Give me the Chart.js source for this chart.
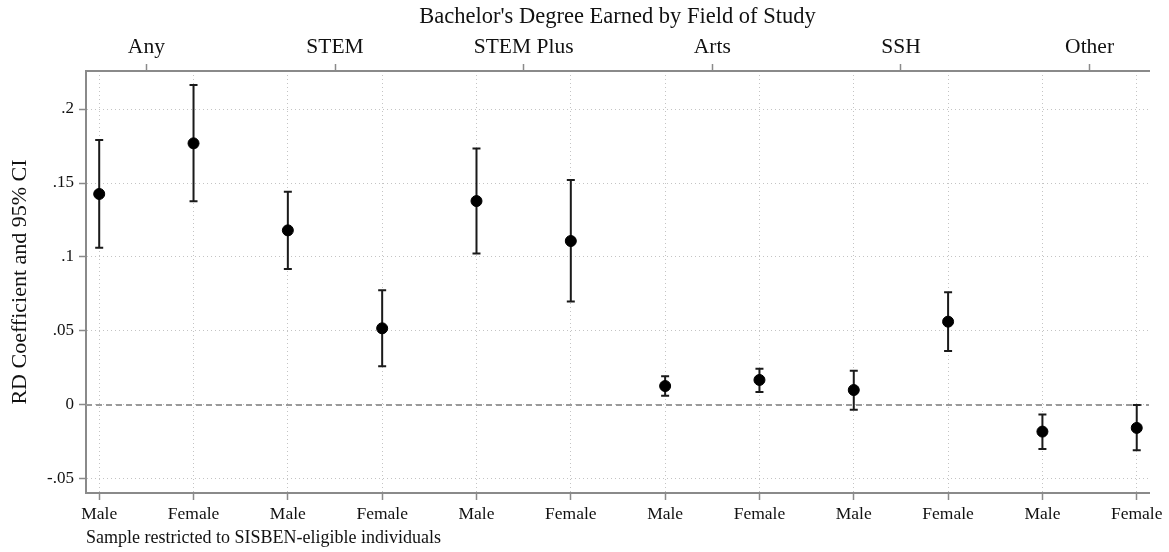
<!DOCTYPE html>
<html>
<head>
<meta charset="utf-8">
<script src="https://cdn.jsdelivr.net/npm/chart.js@4/dist/chart.umd.min.js"></script>
<style>
  html, body { margin: 0; padding: 0; background: #fff; }
  #wrap { width: 1169px; height: 552px; }
</style>
</head>
<body>
<div id="wrap"><canvas id="rdChart"></canvas></div>
<script>
const FONT = "'Liberation Serif', 'DejaVu Serif', serif";

// field groups (top axis) and sex categories (bottom axis)
const fields = ["Any", "STEM", "STEM Plus", "Arts", "SSH", "Other"];
const sexLabels = ["Male", "Female", "Male", "Female", "Male", "Female",
                   "Male", "Female", "Male", "Female", "Male", "Female"];

// RD coefficients and 95% CI bounds
const coef   = [0.1426, 0.1768, 0.118, 0.0518, 0.1378, 0.1108, 0.0128, 0.0169, 0.0101, 0.0563, -0.018, -0.0155];
const ciLow  = [0.1063, 0.1376, 0.0919, 0.0261, 0.1023, 0.070, 0.0063, 0.0088, -0.0032, 0.0365, -0.0297, -0.0306];
const ciHigh = [0.179, 0.2162, 0.1441, 0.0775, 0.1734, 0.152, 0.0194, 0.0245, 0.0232, 0.0761, -0.0065, 0.0];

const yTicks = [-0.05, 0, 0.05, 0.1, 0.15, 0.2];
const yTickLabels = ["-.05", "0", ".05", ".1", ".15", ".2"];

const AXIS_COLOR = "#8a8a8a";
const GRID_COLOR = "#c4c4c4";

// dashed reference line at zero, drawn under the CI bars
const zeroLine = {
  id: "zeroLine",
  beforeDatasetsDraw(chart) {
    const { ctx, chartArea, scales } = chart;
    const y = scales.y.getPixelForValue(0);
    ctx.save();
    ctx.strokeStyle = "#9a9a9a";
    ctx.lineWidth = 2;
    ctx.setLineDash([6, 4]);
    ctx.beginPath();
    ctx.moveTo(chartArea.left, y);
    ctx.lineTo(chartArea.right, y);
    ctx.stroke();
    ctx.restore();
  }
};

// vertical CI whiskers with caps
const errorBars = {
  id: "errorBars",
  beforeDatasetsDraw(chart) {
    const { ctx, scales } = chart;
    const cap = 4;
    ctx.save();
    ctx.strokeStyle = "#1a1a1a";
    ctx.lineWidth = 2;
    ciLow.forEach((lo, i) => {
      const x = scales.x.getPixelForValue(i);
      const y1 = scales.y.getPixelForValue(lo);
      const y2 = scales.y.getPixelForValue(ciHigh[i]);
      ctx.beginPath();
      ctx.moveTo(x, y1); ctx.lineTo(x, y2);
      ctx.moveTo(x - cap, y1); ctx.lineTo(x + cap, y1);
      ctx.moveTo(x - cap, y2); ctx.lineTo(x + cap, y2);
      ctx.stroke();
    });
    ctx.restore();
  }
};

const xMin = -0.14, xMax = 11.13;

new Chart(document.getElementById("rdChart"), {
  type: "scatter",
  data: {
    datasets: [{
      data: coef.map((v, i) => ({ x: i, y: v })),
      backgroundColor: "#000",
      borderColor: "#000",
      pointRadius: 5.5,
      pointHoverRadius: 5.5
    }]
  },
  options: {
    responsive: true,
    maintainAspectRatio: false,
    animation: false,
    layout: { padding: { right: 20 } },
    plugins: { legend: { display: false }, tooltip: { enabled: false } },
    scales: {
      x: {
        type: "linear",
        position: "bottom",
        min: xMin, max: xMax,
        afterBuildTicks: axis => { axis.ticks = sexLabels.map((_, i) => ({ value: i })); },
        afterFit: s => { s.height = 59; s.paddingLeft = 0; s.paddingRight = 0; },
        ticks: {
          autoSkip: false, maxRotation: 0, padding: 3.5,
          color: "#111", font: { family: FONT, size: 17.5 },
          callback: v => sexLabels[v]
        },
        grid: {
          color: GRID_COLOR, lineWidth: 1,
          tickLength: 7, tickColor: AXIS_COLOR, tickWidth: 1.5, tickBorderDash: []
        },
        border: { color: AXIS_COLOR, width: 2, dash: [1, 3] },
        title: {
          display: true, align: "start",
          text: "Sample restricted to SISBEN-eligible individuals",
          color: "#111", font: { family: FONT, size: 18 },
          padding: { top: 0, bottom: 3 }
        }
      },
      x2: {
        type: "linear",
        position: "top",
        min: xMin, max: xMax,
        afterBuildTicks: axis => { axis.ticks = fields.map((_, i) => ({ value: i * 2 + 0.5 })); },
        afterFit: s => { s.height = 71; s.paddingLeft = 0; s.paddingRight = 0; },
        ticks: {
          autoSkip: false, maxRotation: 0, padding: 4,
          color: "#111", font: { family: FONT, size: 21.5 },
          callback: v => fields[Math.round((v - 0.5) / 2)]
        },
        grid: { drawOnChartArea: false, tickLength: 7, tickColor: AXIS_COLOR, tickWidth: 1.5 },
        border: { color: AXIS_COLOR, width: 2 },
        title: {
          display: true,
          text: "Bachelor's Degree Earned by Field of Study",
          color: "#111", font: { family: FONT, size: 22.5 },
          padding: { top: 3.5, bottom: 0 }
        }
      },
      y: {
        min: -0.0595, max: 0.2257,
        afterBuildTicks: axis => { axis.ticks = yTicks.map(v => ({ value: v })); },
        afterFit: s => { s.width = 86; s.paddingTop = 0; s.paddingBottom = 0; },
        ticks: {
          padding: 5, color: "#111", font: { family: FONT, size: 17 },
          callback: v => yTickLabels[yTicks.findIndex(t => Math.abs(t - v) < 1e-9)]
        },
        grid: {
          color: GRID_COLOR, lineWidth: 1,
          tickLength: 7, tickColor: AXIS_COLOR, tickWidth: 1.5, tickBorderDash: []
        },
        border: { color: AXIS_COLOR, width: 2, dash: [1, 3] },
        title: {
          display: true,
          text: "RD Coefficient and 95% CI",
          color: "#111", font: { family: FONT, size: 22 },
          padding: { top: 7, bottom: 0 }
        }
      }
    }
  },
  plugins: [zeroLine, errorBars]
});
</script>
</body>
</html>
